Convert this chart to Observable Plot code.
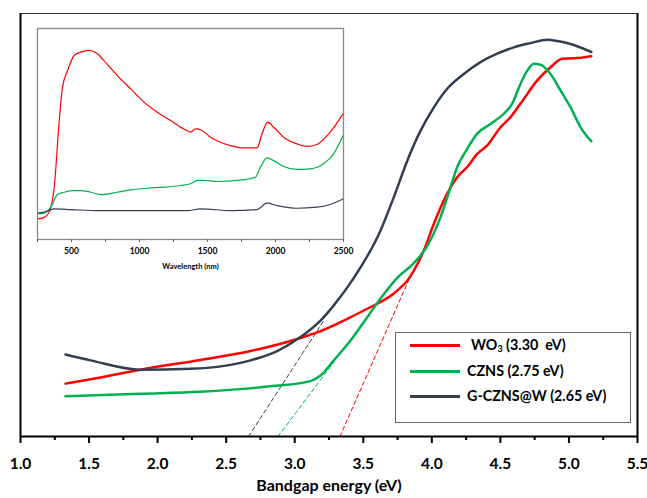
<!DOCTYPE html>
<html><head><meta charset="utf-8">
<script src="https://cdn.jsdelivr.net/npm/d3@7"></script>
<script src="https://cdn.jsdelivr.net/npm/@observablehq/plot@0.6"></script>
<style>
body{margin:0;background:#fff;}
#wrap{position:relative;width:647px;height:498px;font-family:Lato,"Open Sans",sans-serif;color:#000;overflow:hidden;}
#main,#inset{position:absolute;}
#main{left:0;top:0;}
#inset{left:35px;top:26px;}
svg{overflow:visible;}
#legend{position:absolute;left:395px;top:332px;width:236px;height:91px;border:1.5px solid #666;box-sizing:border-box;background:#fff;}
.sw{position:absolute;left:14px;width:50px;height:3px;}
.lab{position:absolute;font-weight:bold;font-size:14.3px;white-space:nowrap;line-height:16px;}
.lab sub{font-size:9px;vertical-align:-2px;line-height:0;}
</style></head>
<body><div id="wrap"><div id="main"></div><div id="inset"></div><div id="legend"></div></div>
<script>
// ---- main chart: Tauc-type curves vs bandgap energy (eV) ----
const energyWO3 = [1.328,1.438,1.875,2.313,2.678,3.042,3.164,3.383,3.529,3.626,3.723,3.772,3.821,3.869,3.942,4.015,4.112,4.185,4.258,4.331,4.404,4.501,4.574,4.647,4.769,4.866,4.951,5.036,5.163];
const valueWO3  = [0.125,0.131,0.158,0.181,0.202,0.233,0.246,0.278,0.302,0.318,0.338,0.352,0.368,0.392,0.440,0.503,0.574,0.613,0.637,0.668,0.688,0.731,0.755,0.787,0.842,0.873,0.893,0.894,0.899];

const energyCZNS = [1.328,1.875,2.313,2.605,2.799,3.115,3.188,3.285,3.407,3.529,3.626,3.748,3.869,3.966,4.063,4.136,4.185,4.258,4.331,4.428,4.525,4.586,4.647,4.696,4.744,4.793,4.866,4.939,5.012,5.085,5.163];
const valueCZNS  = [0.095,0.101,0.106,0.112,0.118,0.131,0.144,0.180,0.227,0.282,0.326,0.375,0.410,0.450,0.518,0.589,0.637,0.680,0.716,0.739,0.763,0.787,0.834,0.865,0.881,0.879,0.857,0.818,0.778,0.731,0.698];

const energyGCZNS = [1.328,1.511,1.875,2.240,2.605,2.678,2.872,3.042,3.188,3.285,3.419,3.626,3.723,3.821,3.918,4.015,4.112,4.233,4.355,4.477,4.598,4.720,4.842,4.915,5.012,5.163];
const valueGCZNS  = [0.194,0.180,0.158,0.160,0.174,0.180,0.202,0.235,0.274,0.310,0.369,0.487,0.566,0.652,0.723,0.778,0.822,0.857,0.885,0.905,0.920,0.930,0.938,0.935,0.928,0.909];

// tangent (extrapolation) lines: [start, end]
const tangentWO3E = [3.33, 3.845],   tangentWO3V = [0, 0.38];
const tangentCZNSE = [2.878, 3.284], tangentCZNSV = [0, 0.175];
const tangentGCZNSE = [2.663, 3.212], tangentGCZNSV = [0, 0.274];

const xMajorTicks = [1.0,1.5,2.0,2.5,3.0,3.5,4.0,4.5,5.0,5.5];
const xMinorTicks = [1.25,1.75,2.25,2.75,3.25,3.75,4.25,4.75,5.25];
const xTitle = "Bandgap energy (eV)";

// ---- inset: absorbance spectra vs wavelength ----
const wlWO3 = [250,287,336,373,410,434,471,520,568,630,691,727,837,935,1033,1131,1229,1326,1375,1412,1449,1522,1595,1669,1767,1864,1901,1943,1987,2060,2158,2231,2304,2402,2500];
const absWO3 = [0.098,0.101,0.130,0.248,0.564,0.722,0.801,0.872,0.888,0.896,0.880,0.856,0.777,0.714,0.651,0.603,0.564,0.524,0.509,0.524,0.520,0.485,0.461,0.445,0.434,0.434,0.501,0.556,0.532,0.485,0.453,0.441,0.450,0.509,0.599];

const wlCZNS = [250,299,348,397,446,507,568,642,715,837,935,1057,1180,1302,1375,1424,1473,1571,1718,1852,1889,1938,1987,2060,2158,2256,2353,2427,2500];
const absCZNS = [0.122,0.125,0.153,0.213,0.224,0.232,0.232,0.224,0.213,0.224,0.235,0.243,0.248,0.256,0.264,0.280,0.280,0.275,0.280,0.295,0.343,0.387,0.374,0.346,0.332,0.335,0.359,0.406,0.496];

const wlGCZNS = [250,299,373,495,691,935,1351,1449,1669,1864,1938,2011,2158,2304,2402,2500];
const absGCZNS = [0.125,0.130,0.145,0.142,0.137,0.137,0.137,0.145,0.137,0.142,0.172,0.161,0.148,0.153,0.166,0.193];

const insetMajorTicks = [500,1000,1500,2000,2500];
const insetMinorTicks = [250,750,1250,1750,2250];
const insetTitle = "Wavelength (nm)";

const seriesNames = ["WO3","CZNS","G-CZNS@W"];
const seriesColors = ["#ff0000","#00b050","#333f50"];
const legendLabels = ["WO<sub>3</sub> (3.30&nbsp; eV)","CZNS (2.75 eV)","G-CZNS@W (2.65 eV)"];

const rows = (xs, ys) => xs.map((x, i) => ({x, y: ys[i]}));
const mainSeries = [rows(energyWO3, valueWO3), rows(energyCZNS, valueCZNS), rows(energyGCZNS, valueGCZNS)];
const tangents = [rows(tangentWO3E, tangentWO3V), rows(tangentCZNSE, tangentCZNSV), rows(tangentGCZNSE, tangentGCZNSV)];
const insetSeries = [rows(wlWO3, absWO3), rows(wlCZNS, absCZNS), rows(wlGCZNS, absGCZNS)];

const font = "Lato, 'Open Sans', sans-serif";

const main = Plot.plot({
  width: 647, height: 498,
  marginLeft: 20, marginRight: 10, marginTop: 13, marginBottom: 62,
  x: {domain: [1, 5.5]},
  y: {domain: [0, 1], axis: null},
  style: {fontFamily: font, background: "transparent", color: "#000", overflow: "visible"},
  marks: [
    Plot.ruleY([1], {stroke: "#333", strokeWidth: 1.2}),
    ...tangents.map((t, i) => Plot.line(t, {x: "x", y: "y", stroke: seriesColors[i], strokeWidth: 1, strokeDasharray: "4,3"})),
    ...mainSeries.map((s, i) => Plot.line(s, {x: "x", y: "y", stroke: seriesColors[i], strokeWidth: 2.5, curve: "monotone-x"})),
    Plot.ruleX([1], {strokeWidth: 2}),
    Plot.ruleX([5.5], {strokeWidth: 2}),
    Plot.ruleY([0], {strokeWidth: 2}),
    Plot.axisX(xMajorTicks, {tickSize: 7, tickPadding: 14, strokeWidth: 2, tickFormat: d3.format(".1f"), fontSize: 15.5, fontWeight: "bold", label: null}),
    Plot.axisX(xMinorTicks, {tickSize: 4, strokeWidth: 2, tickFormat: () => "", label: null}),
    Plot.text([xTitle], {text: d => d, frameAnchor: "bottom", dy: 54, fontSize: 16, fontWeight: "bold"})
  ]
});
document.getElementById("main").appendChild(main);

const inset = Plot.plot({
  width: 324, height: 253,
  marginLeft: 2, marginRight: 16, marginTop: 2, marginBottom: 40,
  x: {domain: [250, 2500]},
  y: {domain: [0, 1], axis: null},
  style: {fontFamily: font, background: "transparent", color: "#000", overflow: "visible"},
  marks: [
    ...insetSeries.map((s, i) => Plot.line(s, {x: "x", y: "y", stroke: seriesColors[i], strokeWidth: 1.2, curve: "monotone-x"})),
    Plot.frame({stroke: "#888", strokeWidth: 1.3}),
    Plot.axisX(insetMajorTicks, {tickSize: 3, tickPadding: 5, stroke: "#666", tickFormat: d3.format("d"), fontSize: 8.5, fontWeight: "bold", label: null}),
    Plot.axisX(insetMinorTicks, {tickSize: 3, stroke: "#666", tickFormat: () => "", label: null}),
    Plot.text([insetTitle], {text: d => d, frameAnchor: "bottom", dy: 29, fontSize: 7.5, fontWeight: "bold"})
  ]
});
document.getElementById("inset").appendChild(inset);

// legend
const legend = document.getElementById("legend");
const rowY = [12, 38, 63];
const labX = [75, 71, 71];
seriesNames.forEach((n, i) => {
  const sw = document.createElement("div");
  sw.className = "sw";
  sw.style.top = (rowY[i] - 1.5) + "px";
  sw.style.background = seriesColors[i];
  legend.appendChild(sw);
  const lab = document.createElement("div");
  lab.className = "lab";
  lab.style.top = (rowY[i] - 8) + "px";
  lab.style.left = labX[i] + "px";
  lab.innerHTML = legendLabels[i];
  legend.appendChild(lab);
});
</script></body></html>
